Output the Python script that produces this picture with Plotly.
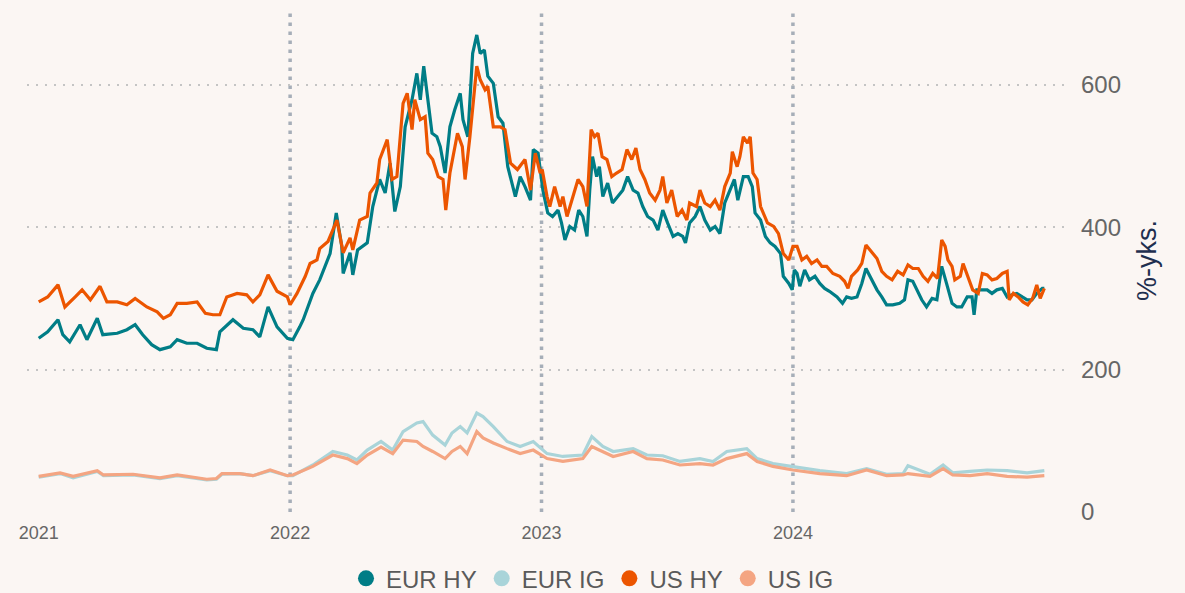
import plotly.graph_objects as go

# ---------------- data (basis points, %-yks.) ----------------
eur_hy_dates = [
    "2021-01-01", "2021-01-14", "2021-01-29", "2021-02-05", "2021-02-15", "2021-03-02", "2021-03-12",
    "2021-03-27", "2021-04-04", "2021-04-25", "2021-05-09", "2021-05-21", "2021-06-01", "2021-06-14",
    "2021-06-26", "2021-07-11", "2021-07-21", "2021-08-04", "2021-08-19", "2021-09-02", "2021-09-16",
    "2021-09-21", "2021-10-10", "2021-10-25", "2021-11-08", "2021-11-18", "2021-11-30", "2021-12-13",
    "2021-12-28", "2022-01-05", "2022-01-15", "2022-01-20", "2022-02-03", "2022-02-13", "2022-02-28",
    "2022-03-09", "2022-03-17", "2022-03-19", "2022-03-29", "2022-04-02", "2022-04-09", "2022-04-23",
    "2022-05-01", "2022-05-11", "2022-05-19", "2022-05-26", "2022-06-02", "2022-06-10", "2022-06-17",
    "2022-06-27", "2022-07-04", "2022-07-09", "2022-07-14", "2022-07-20", "2022-07-26", "2022-08-02",
    "2022-08-07", "2022-08-14", "2022-08-21", "2022-08-28", "2022-09-05", "2022-09-09", "2022-09-16",
    "2022-09-23", "2022-09-29", "2022-10-04", "2022-10-10", "2022-10-15", "2022-10-23", "2022-10-30",
    "2022-11-06", "2022-11-13", "2022-11-24", "2022-12-01", "2022-12-08", "2022-12-16", "2022-12-20",
    "2022-12-27", "2023-01-03", "2023-01-10", "2023-01-17", "2023-01-25", "2023-01-30", "2023-02-04",
    "2023-02-11", "2023-02-18", "2023-02-24", "2023-03-02", "2023-03-08", "2023-03-12", "2023-03-16",
    "2023-03-22", "2023-03-26", "2023-03-31", "2023-04-07", "2023-04-14", "2023-04-22", "2023-04-29",
    "2023-05-06", "2023-05-14", "2023-05-21", "2023-05-28", "2023-06-04", "2023-06-12", "2023-06-19",
    "2023-06-26", "2023-07-03", "2023-07-11", "2023-07-18", "2023-07-25", "2023-07-29", "2023-08-04",
    "2023-08-12", "2023-08-19", "2023-08-26", "2023-09-03", "2023-09-10", "2023-09-17", "2023-09-24",
    "2023-10-02", "2023-10-08", "2023-10-13", "2023-10-21", "2023-10-28", "2023-11-03", "2023-11-07",
    "2023-11-15", "2023-11-22", "2023-11-29", "2023-12-06", "2023-12-14", "2023-12-18", "2023-12-26",
    "2023-12-31", "2024-01-03", "2024-01-07", "2024-01-11", "2024-01-18", "2024-01-25", "2024-02-02",
    "2024-02-09", "2024-02-16", "2024-02-23", "2024-03-05", "2024-03-13", "2024-03-19", "2024-03-26",
    "2024-04-03", "2024-04-10", "2024-04-16", "2024-04-24", "2024-05-02", "2024-05-09", "2024-05-16",
    "2024-05-25", "2024-06-04", "2024-06-11", "2024-06-16", "2024-06-23", "2024-06-29", "2024-07-06",
    "2024-07-13", "2024-07-21", "2024-07-28", "2024-08-04", "2024-08-11", "2024-08-19", "2024-08-26",
    "2024-09-02", "2024-09-10", "2024-09-17", "2024-09-20", "2024-09-24", "2024-10-02", "2024-10-09",
    "2024-10-16", "2024-10-23", "2024-10-31", "2024-11-07", "2024-11-14", "2024-11-21", "2024-11-29",
    "2024-12-06", "2024-12-13", "2024-12-20", "2024-12-28", "2024-12-31",
]
eur_hy = [
    244, 253, 270, 249, 239, 263, 242,
    272, 249, 251, 256, 263, 249, 235,
    228, 232, 242, 237, 237, 230, 228,
    253, 270, 258, 256, 246, 288, 260,
    244, 242, 260, 270, 307, 326, 363,
    420, 373, 335, 364, 333, 368, 378,
    429, 467, 448, 490, 422, 457, 541,
    579, 616, 579, 626, 574, 532, 527,
    513, 476, 541, 565, 588, 551, 527,
    644, 670, 644, 649, 612, 602, 555,
    546, 485, 443, 471, 457, 438, 509,
    504, 452, 420, 415, 424, 406, 382,
    401, 396, 424, 415, 387, 452, 499,
    471, 485, 443, 462, 434, 443, 452,
    471, 452, 448, 429, 415, 410, 396,
    424, 406, 387, 391, 387, 378, 406,
    415, 429, 410, 396, 401, 391, 434,
    452, 467, 438, 471, 471, 457, 420,
    410, 387, 378, 373, 363, 331, 321,
    312, 340, 335, 317, 340, 326, 331,
    321, 314, 310, 302, 293, 302, 300,
    302, 321, 342, 326, 312, 302, 291,
    291, 293, 298, 326, 324, 312, 298,
    288, 300, 298, 345, 321, 293, 288,
    288, 302, 302, 277, 312, 312, 312,
    307, 312, 314, 302, 305, 307, 302,
    298, 298, 307, 314, 314,
]

us_hy_dates = [
    "2021-01-01", "2021-01-14", "2021-01-29", "2021-02-08", "2021-02-23", "2021-03-05", "2021-03-17",
    "2021-03-31", "2021-04-10", "2021-04-25", "2021-05-09", "2021-05-21", "2021-06-07", "2021-06-22",
    "2021-07-01", "2021-07-11", "2021-07-21", "2021-08-04", "2021-08-19", "2021-08-31", "2021-09-11",
    "2021-09-21", "2021-10-01", "2021-10-16", "2021-10-30", "2021-11-08", "2021-11-18", "2021-11-30",
    "2021-12-13", "2021-12-28", "2022-01-01", "2022-01-11", "2022-01-23", "2022-01-30", "2022-02-09",
    "2022-02-13", "2022-02-25", "2022-03-10", "2022-03-19", "2022-03-29", "2022-04-02", "2022-04-12",
    "2022-04-23", "2022-04-27", "2022-05-07", "2022-05-11", "2022-05-22", "2022-05-29", "2022-06-05",
    "2022-06-14", "2022-06-20", "2022-06-27", "2022-07-01", "2022-07-09", "2022-07-16", "2022-07-20",
    "2022-07-27", "2022-08-04", "2022-08-11", "2022-08-15", "2022-08-21", "2022-09-01", "2022-09-08",
    "2022-09-12", "2022-09-19", "2022-09-29", "2022-10-04", "2022-10-11", "2022-10-15", "2022-10-23",
    "2022-11-02", "2022-11-09", "2022-11-17", "2022-11-27", "2022-12-08", "2022-12-16", "2022-12-23",
    "2022-12-30", "2023-01-02", "2023-01-09", "2023-01-13", "2023-01-20", "2023-01-28", "2023-02-01",
    "2023-02-07", "2023-02-14", "2023-02-23", "2023-03-02", "2023-03-08", "2023-03-14", "2023-03-19",
    "2023-03-24", "2023-03-30", "2023-04-06", "2023-04-13", "2023-04-20", "2023-04-28", "2023-05-05",
    "2023-05-12", "2023-05-18", "2023-05-24", "2023-05-31", "2023-06-07", "2023-06-15", "2023-06-22",
    "2023-06-26", "2023-07-02", "2023-07-09", "2023-07-17", "2023-07-24", "2023-07-31", "2023-08-04",
    "2023-08-14", "2023-08-19", "2023-08-26", "2023-09-03", "2023-09-10", "2023-09-17", "2023-09-24",
    "2023-10-02", "2023-10-05", "2023-10-12", "2023-10-16", "2023-10-21", "2023-10-27", "2023-10-31",
    "2023-11-04", "2023-11-10", "2023-11-15", "2023-11-25", "2023-12-04", "2023-12-11", "2023-12-18",
    "2023-12-26", "2024-01-01", "2024-01-07", "2024-01-14", "2024-01-21", "2024-01-28", "2024-02-05",
    "2024-02-12", "2024-02-19", "2024-02-28", "2024-03-09", "2024-03-16", "2024-03-21", "2024-03-26",
    "2024-04-04", "2024-04-10", "2024-04-16", "2024-04-24", "2024-05-02", "2024-05-09", "2024-05-16",
    "2024-05-24", "2024-06-01", "2024-06-09", "2024-06-16", "2024-06-23", "2024-07-01", "2024-07-08",
    "2024-07-15", "2024-07-22", "2024-07-29", "2024-08-04", "2024-08-09", "2024-08-13", "2024-08-19",
    "2024-08-23", "2024-08-31", "2024-09-04", "2024-09-11", "2024-09-18", "2024-09-26", "2024-10-02",
    "2024-10-09", "2024-10-16", "2024-10-23", "2024-10-31", "2024-11-07", "2024-11-10", "2024-11-16",
    "2024-11-23", "2024-11-30", "2024-12-07", "2024-12-14", "2024-12-20", "2024-12-25", "2024-12-31",
]
us_hy = [
    295, 302, 319, 288, 302, 312, 298,
    317, 295, 295, 291, 300, 288, 281,
    272, 277, 293, 293, 295, 279, 277,
    277, 302, 307, 305, 295, 305, 333,
    310, 302, 291, 307, 331, 349, 354,
    370, 380, 410, 364, 385, 368, 410,
    415, 448, 462, 495, 523, 467, 471,
    574, 588, 537, 579, 551, 555, 504,
    495, 471, 467, 424, 476, 532, 513,
    467, 527, 626, 607, 593, 598, 541,
    541, 537, 490, 481, 495, 452, 504,
    476, 481, 443, 429, 457, 429, 443,
    415, 438, 467, 457, 429, 537, 527,
    532, 499, 495, 471, 476, 481, 509,
    495, 511, 481, 467, 448, 438, 452,
    471, 434, 452, 415, 424, 410, 434,
    429, 452, 434, 429, 438, 424, 457,
    476, 506, 485, 499, 527, 518, 527,
    476, 467, 429, 406, 401, 391, 363,
    354, 373, 373, 354, 359, 349, 354,
    345, 345, 335, 331, 324, 314, 331,
    340, 349, 375, 366, 356, 338, 331,
    326, 338, 333, 347, 342, 342, 331,
    324, 335, 328, 382, 373, 354, 345,
    326, 331, 349, 331, 312, 307, 335,
    333, 326, 328, 335, 338, 298, 307,
    302, 295, 291, 300, 319, 300, 314,
]

ig_dates = [
    "2021-01-01", "2021-02-01", "2021-02-20", "2021-03-27", "2021-04-05", "2021-05-18", "2021-06-26",
    "2021-07-21", "2021-09-02", "2021-09-16", "2021-09-24", "2021-10-20", "2021-11-08", "2021-12-03",
    "2021-12-28", "2022-01-05", "2022-02-03", "2022-03-04", "2022-03-25", "2022-04-08", "2022-04-23",
    "2022-05-13", "2022-05-30", "2022-06-14", "2022-07-04", "2022-07-13", "2022-07-27", "2022-08-14",
    "2022-08-24", "2022-09-05", "2022-09-15", "2022-09-29", "2022-10-08", "2022-10-23", "2022-11-12",
    "2022-12-01", "2022-12-20", "2023-01-09", "2023-02-01", "2023-03-02", "2023-03-15", "2023-03-31",
    "2023-04-15", "2023-05-14", "2023-06-03", "2023-06-26", "2023-07-21", "2023-08-19", "2023-09-07",
    "2023-09-27", "2023-10-26", "2023-11-10", "2023-12-03", "2024-01-01", "2024-02-09", "2024-03-19",
    "2024-04-17", "2024-05-16", "2024-06-09", "2024-06-16", "2024-07-03", "2024-07-18", "2024-08-06",
    "2024-08-20", "2024-09-14", "2024-10-09", "2024-11-07", "2024-12-06", "2024-12-31",
]
eur_ig = [
    49, 54, 48, 57, 51, 52, 47,
    51, 45, 46, 53, 54, 51, 58,
    51, 51, 66, 85, 80, 73, 87,
    99, 87, 113, 125, 127, 108, 94,
    111, 120, 111, 139, 134, 120, 99,
    92, 99, 82, 78, 80, 106, 92,
    85, 89, 80, 79, 71, 75, 71,
    85, 89, 75, 68, 64, 58, 54,
    61, 53, 54, 65, 59, 53, 66,
    55, 57, 59, 58, 55, 58,
]
us_ig = [
    50, 55, 50, 58, 52, 53, 48,
    52, 46, 47, 54, 54, 51, 59,
    51, 52, 64, 80, 75, 68, 80,
    91, 82, 101, 99, 92, 85, 75,
    85, 92, 82, 113, 104, 97, 89,
    82, 87, 75, 71, 75, 92, 85,
    78, 85, 75, 73, 66, 68, 66,
    75, 82, 71, 64, 59, 54, 51,
    59, 51, 52, 54, 52, 50, 61,
    52, 51, 54, 50, 49, 51,
]

series_names = ["EUR HY", "EUR IG", "US HY", "US IG"]
series_colors = ["#007d86", "#a9d4d9", "#ec5500", "#f4a582"]
year_ticks = ["2021-01-01", "2022-01-01", "2023-01-01", "2024-01-01"]
year_labels = ["2021", "2022", "2023", "2024"]
year_lines = ["2022-01-01", "2023-01-01", "2024-01-01"]
y_ticks = [0, 200, 400, 600]
y_title = "%-yks."

FONT = "Liberation Sans, Arial, sans-serif"
BG = "#fbf6f3"

fig = go.Figure()
series = [
    (eur_hy_dates, eur_hy),
    (ig_dates, eur_ig),
    (us_hy_dates, us_hy),
    (ig_dates, us_ig),
]
for (xs, ys), name, col in zip(series, series_names, series_colors):
    fig.add_trace(go.Scatter(
        x=xs, y=ys, mode="lines", name=name, showlegend=False,
        line=dict(color=col, width=3.2), hoverinfo="x+y+name",
    ))
# legend entries (circle symbols)
for name, col in zip(series_names, series_colors):
    fig.add_trace(go.Scatter(
        x=[None], y=[None], mode="markers", name=name,
        marker=dict(color=col, size=18, symbol="circle"),
    ))

for d in year_lines:
    fig.add_shape(type="line", xref="x", yref="paper", x0=d, x1=d, y0=0, y1=1,
                  line=dict(color="#a6aeb8", width=3.5, dash="3.5px,5.5px"), layer="below")

# y-axis title (right side, reading bottom-to-top)
fig.add_annotation(
    text=y_title, xref="paper", yref="paper", x=1.079, y=0.5,
    xanchor="center", yanchor="middle", textangle=-90, showarrow=False,
    font=dict(size=27, color="#1f2f4f", family=FONT),
)

fig.update_layout(
    width=1185, height=593,
    paper_bgcolor=BG, plot_bgcolor=BG,
    margin=dict(l=27, r=120, t=10, b=81, autoexpand=False),
    font=dict(family=FONT, color="#666666"),
    showlegend=True,
    legend=dict(
        orientation="h", xref="container", yref="paper",
        x=0.5, xanchor="center", y=-0.133, yanchor="middle",
        font=dict(size=24, color="#5a5a5a", family=FONT),
        itemwidth=30, traceorder="normal", bgcolor="rgba(0,0,0,0)",
    ),
    xaxis=dict(
        type="date", range=["2020-12-15", "2025-01-30"],
        tickvals=year_ticks, ticktext=year_labels,
        showgrid=False, zeroline=False, showline=False, ticks="",
        ticklabelstandoff=8,
        tickfont=dict(size=18, color="#666666"),
    ),
    yaxis=dict(
        side="right", range=[0, 705], tickvals=y_ticks,
        showgrid=True, gridcolor="#c4c4c4", gridwidth=1.5, griddash="2px,7px",
        zeroline=False, showline=False, ticks="",
        ticklabelstandoff=15,
        tickfont=dict(size=24, color="#666666"),
    ),
)

fig.write_html(
    "out.html",
    config={"displayModeBar": False},
    post_script="document.documentElement.style.margin='0';document.body.style.margin='0';"
                "document.body.style.overflow='hidden';",
)
